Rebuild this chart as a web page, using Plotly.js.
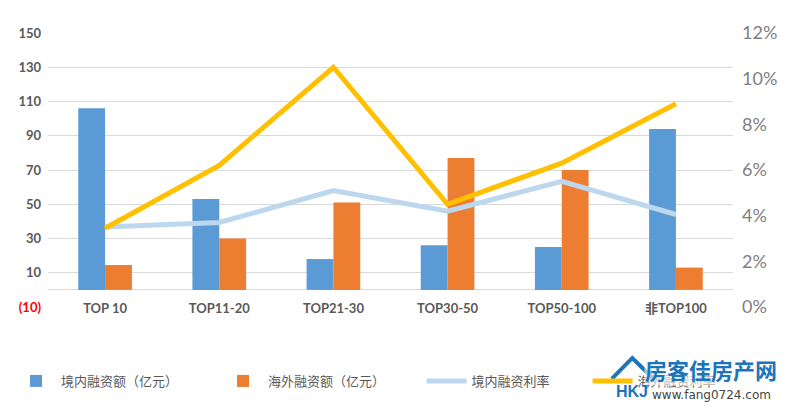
<!DOCTYPE html>
<html>
<head>
<meta charset="utf-8">
<script src="https://cdn.plot.ly/plotly-3.0.1.min.js"></script>
<style>
  html, body { margin: 0; padding: 0; background: #fff; }
  #chart { width: 788px; height: 408px; }
</style>
</head>
<body>
<div id="chart"></div>
<script>
  const categories = ["TOP 10", "TOP11-20", "TOP21-30", "TOP30-50", "TOP50-100", "非TOP100"];
  const domesticAmount = [106, 53, 18, 26, 25, 94];
  const overseasAmount = [14.5, 30, 51, 77, 70, 13];
  const domesticRate = [0.035, 0.037, 0.051, 0.042, 0.055, 0.0405];
  const overseasRate = [0.0345, 0.062, 0.105, 0.045, 0.063, 0.089];
  const leftTicks = [-10, 10, 30, 50, 70, 90, 110, 130, 150];
  const leftTickText = ['<span style="color:#ff0000">(10)</span>', "10", "30", "50", "70", "90", "110", "130", "150"];

  const font = "Lato, 'Noto Sans CJK SC', sans-serif";

  const traces = [
    {
      type: "bar", name: "境内融资额（亿元）", x: categories, y: domesticAmount,
      marker: { color: "#5B9BD5" }, legend: "legend"
    },
    {
      type: "bar", name: "海外融资额（亿元）", x: categories, y: overseasAmount,
      marker: { color: "#ED7D31" }, legend: "legend"
    },
    {
      type: "scatter", mode: "lines", name: "境内融资利率", x: categories, y: domesticRate,
      yaxis: "y2", line: { color: "#BDD7EE", width: 5 }, legend: "legend2"
    },
    {
      type: "scatter", mode: "lines", name: "海外融资利率", x: categories, y: overseasRate,
      yaxis: "y2", line: { color: "#FFC000", width: 5 }, legend: "legend2"
    }
  ];

  const legendBase = {
    orientation: "h",
    xref: "container", xanchor: "left",
    y: -0.27, yanchor: "middle",
    font: { size: 13, color: "#595959" },
    itemwidth: 40,
    traceorder: "normal",
    bgcolor: "rgba(0,0,0,0)"
  };

  const layout = {
    width: 788, height: 408,
    margin: { l: 48, r: 55, t: 33, b: 101, autoexpand: false },
    paper_bgcolor: "#fff", plot_bgcolor: "#fff",
    font: { family: font, color: "#595959" },
    showlegend: true,
    barmode: "group",
    bargap: 0.53,
    bargroupgap: 0,
    xaxis: {
      type: "category",
      showgrid: false, showline: false, ticks: "",
      tickfont: { size: 13, color: "#595959", weight: "bold" },
      ticklabelstandoff: -8
    },
    yaxis: {
      range: [-10, 150],
      tickvals: leftTicks, ticktext: leftTickText,
      showgrid: true, gridcolor: "#D9D9D9", gridwidth: 1,
      zeroline: true, zerolinecolor: "#D9D9D9", zerolinewidth: 1,
      tickfont: { size: 13, color: "#595959", weight: "bold" },
      ticklabelstandoff: 6
    },
    yaxis2: {
      overlaying: "y", side: "right",
      range: [0, 0.12], dtick: 0.02, tickformat: ".0%",
      showgrid: false, zeroline: false,
      tickfont: { size: 18, color: "#7F7F7F" },
      ticklabelstandoff: 8
    },
    legend: Object.assign({}, legendBase, { x: 0.014, entrywidth: 152 }),
    legend2: Object.assign({}, legendBase, { x: 0.535, entrywidth: 111 }),
    annotations: [
      {
        xref: "paper", yref: "paper", x: 0.87, y: -0.228, xanchor: "left", yanchor: "middle",
        text: "<b>房客佳房产网</b>", showarrow: false,
        font: { size: 22, color: "#1B75BB", family: "'Noto Sans CJK SC', sans-serif" },
        bgcolor: "rgba(255,255,255,0.6)", borderpad: 0
      },
      {
        xref: "paper", yref: "paper", x: 0.88, y: -0.322, xanchor: "left", yanchor: "middle",
        text: "www.fang0724.com", showarrow: false,
        font: { size: 12, color: "#444", family: "'DejaVu Sans', sans-serif" },
        bgcolor: "rgba(255,255,255,0.6)", borderpad: 0
      },
      {
        xref: "paper", yref: "paper", x: 0.853, y: -0.31, xanchor: "center", yanchor: "middle",
        text: "<b>HKJ</b>", showarrow: false,
        font: { size: 16, color: "#1B75BB", family: "'Liberation Sans', sans-serif" }
      }
    ],
    shapes: [
      {
        type: "path", xref: "paper", yref: "paper",
        path: "M 0.823 -0.262 L 0.853 -0.186 L 0.884 -0.262",
        line: { color: "#1B75BB", width: 4 }
      }
    ]
  };

  Plotly.newPlot("chart", traces, layout, { displayModeBar: false, staticPlot: true });
</script>
</body>
</html>
